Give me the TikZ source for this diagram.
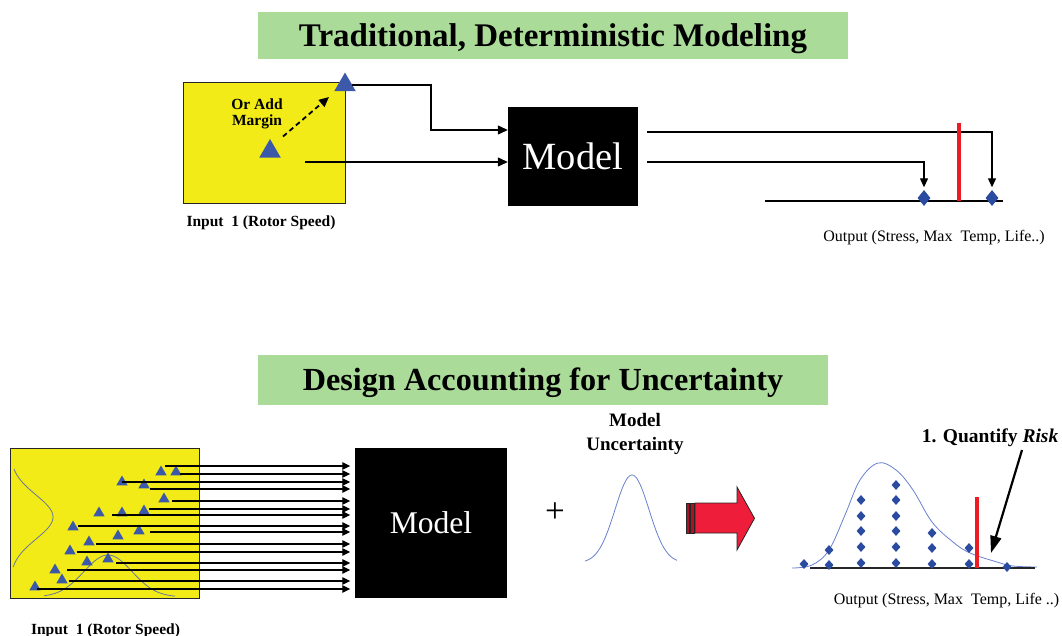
\documentclass[tikz,border=0pt]{standalone}
\usepackage{fontspec}
\usepackage{graphicx}
\setmainfont{Liberation Serif}
\usetikzlibrary{arrows.meta,shapes.geometric,calc}
\definecolor{titlegreen}{RGB}{170,219,153}
\definecolor{boxyellow}{RGB}{242,235,24}
\definecolor{triblue}{RGB}{60,88,168}
\definecolor{diablue}{RGB}{42,75,160}
\definecolor{limred}{RGB}{237,28,36}
\definecolor{arrred}{RGB}{238,30,58}
\definecolor{curveblue}{RGB}{105,128,205}
\definecolor{curvegray}{RGB}{105,120,150}
\begin{document}
\begin{tikzpicture}[x=1pt,y=-1pt,
  titlebox/.style={fill=titlegreen, inner sep=0pt, text height=22pt, text depth=0pt,
    font=\fontsize{33}{38}\selectfont\bfseries},
  ybox/.style={fill=boxyellow, draw=black!85, line width=1pt},
  modelbox/.style={fill=black, text=white, inner sep=0pt},
  bigtri/.style={regular polygon, regular polygon sides=3, fill=triblue, inner sep=0pt, minimum size=25pt},
  smalltri/.style={regular polygon, regular polygon sides=3, fill=triblue, inner sep=0pt, minimum size=13pt},
  bigdia/.style={diamond, fill=diablue, inner sep=0pt, minimum width=13pt, minimum height=16pt},
  smalldia/.style={diamond, fill=diablue, inner sep=0pt, minimum width=9pt, minimum height=10pt},
  arrA/.style={line width=1.2pt, -{Triangle[length=10pt,width=9pt]}},
  arrB/.style={line width=1.2pt, -{Triangle[length=8pt,width=7.5pt]}},
  arrD/.style={line width=1.2pt, -{Triangle[length=9pt,width=8pt]}},
  lbl/.style={font=\fontsize{15.5}{16}\selectfont\bfseries, align=center, inner sep=0pt},
  outlbl/.style={font=\fontsize{16}{18}\selectfont, inner sep=0pt, anchor=base},
]
\useasboundingbox (0,0) rectangle (1062,636);

% ---------- Top section ----------
\node[titlebox, minimum width=590pt, minimum height=47pt] (title1) at (553,35.3) {Traditional, Deterministic Modeling};

\node[ybox, minimum width=162pt, minimum height=121pt, inner sep=0pt] (yb1) at (264,143.5) {};
\node[lbl] (margin) at (257,113.5) {Or Add\\Margin};
\node[bigtri] (triB) at (270,151.5) {};
\node[bigtri] (triA) at (345,85) {};
\draw[line width=1.8pt, dash pattern=on 5pt off 3.5pt, -{Triangle[length=10pt,width=9pt]}]
  ([shift={(13,-15)}]triB.center) -- ([shift={(-16,12)}]triA.center);
\node[lbl, anchor=base] (in1lbl) at (261,226.7) {Input\ \ 1 (Rotor Speed)};

\node[modelbox, minimum width=130pt, minimum height=99pt, font=\fontsize{38.5}{40}\selectfont] (mdl) at (573,156.5) {Model};

\coordinate (bend) at (431,130);
\draw[arrA] (triA.east) -| (bend) -- (bend -| mdl.west);
\coordinate (in2) at (305,162);
\draw[arrA] (in2) -- (in2 -| mdl.west);

\coordinate (base1L) at (765,201);
\coordinate (base1R) at (1003,201);
\draw[line width=1.3pt] (base1L) -- (base1R);
\node[bigdia] (dA) at (924,198) {};
\node[bigdia] (dB) at (992,198) {};
\coordinate (o1) at (647,132);
\coordinate (o2) at (647,162);
\draw[arrD, shorten >=2.5pt] (o1) -| (dB.north);
\draw[arrD, shorten >=2.5pt] (o2) -| (dA.north);
\coordinate (lim1t) at (959,123);
\coordinate (lim1b) at (959,201);
\draw[limred, line width=3.8pt] (lim1t) -- (lim1b);
\node[outlbl] (out1) at (934,241.7) {Output (Stress, Max\ \ Temp,\ Life..)};

% ---------- Bottom section ----------
\node[titlebox, minimum width=570pt, minimum height=50pt, text height=21.5pt, font=\fontsize{32.2}{38}\selectfont\bfseries] (title2) at (543,380) {Design Accounting for Uncertainty};

\node[ybox, minimum width=189pt, minimum height=150pt, inner sep=0pt] (yb2) at (104.5,523) {};
\draw[curvegray, line width=0.8pt] plot[domain=469:567, samples=70]
  ({10+43*exp(-(\x-517)*(\x-517)/(2*22*22))}, \x);
\draw[curvegray, line width=0.8pt] plot[domain=44:175, samples=70]
  (\x, {597-42*exp(-(\x-108)*(\x-108)/(2*24*24))});

\foreach \i/\x/\y in {1/161/472, 2/176/472, 3/122/482, 4/144/485, 5/164/499, 6/99/513,
  7/122/513, 8/144/511, 9/73/527, 10/118/536, 11/139/531, 12/89/542, 13/70/551,
  14/108/559, 15/87/562, 16/55/570, 17/62/580, 18/35/587}
  {\node[smalltri] (st\i) at (\x,\y) {};}

\node[modelbox, minimum width=152pt, minimum height=150pt, font=\fontsize{31.6}{34}\selectfont] (mdl2) at (431,523) {Model};
\coordinate (mL) at ([xshift=-4.5pt]mdl2.west);
\foreach \i/\x/\y in {1/165/466, 2/180/474, 3/122/482, 4/150/489, 5/172/501, 6/149/509,
  7/112/515, 8/78/526, 9/150/532, 10/96/544, 11/77/552, 12/116/563, 13/67/570,
  14/69/581, 15/37/589}
  {\coordinate (s\i) at (\x,\y);
   \draw[arrB] (s\i) -- (s\i -| mL);}

\node[font=\fontsize{35}{36}\selectfont, inner sep=0pt] (plus) at (555,512.5) {+};
\node[font=\fontsize{19}{24}\selectfont\bfseries, align=center, inner sep=0pt] (mu) at (635,434.3) {Model\\Uncertainty};
\draw[curveblue, line width=0.8pt] plot[domain=585:677, samples=70]
  (\x, {563-88*exp(-(\x-632)*(\x-632)/(2*17*17))});

% red arrow
\filldraw[fill=arrred!70!black, draw=black!85, line width=0.8pt] (686,503) rectangle (689.5,533);
\filldraw[fill=arrred!70!black, draw=black!85, line width=0.8pt] (690.5,503) rectangle (694,533);
\filldraw[fill=arrred, draw=black!85, line width=0.8pt] (695,503) -- (737,503) -- (737,487)
  -- (754.5,518.3) -- (737,550) -- (737,533) -- (695,533) -- cycle;

% output distribution
\draw[curveblue, line width=0.8pt] plot[smooth, tension=0.6] coordinates {
  (792,568) (812,565) (829,550) (845,515) (860,480) (878,463) (896,470) (913,490)
  (932,522) (953,542) (970,553) (997,562) (1013,566) (1037,567)};
\coordinate (base2L) at (810,568);
\coordinate (base2R) at (1035,568);
\draw[line width=1.8pt, black!85] (base2L) -- (base2R);
\foreach \i/\x/\y in {1/804/564, 2/829/550, 3/829/565,
  4/861/500, 5/861/516, 6/861/531, 7/861/547, 8/861/563,
  9/896/485, 10/896/500, 11/896/516, 12/896/531, 13/896/547, 14/896/563,
  15/932/533, 16/932/548, 17/932/564, 18/969/548, 19/969/564, 20/1007/567}
  {\node[smalldia] (sd\i) at (\x,\y) {};}
\coordinate (lim2t) at (977,497);
\coordinate (lim2b) at (977,568);
\draw[limred, line width=4pt] (lim2t) -- (lim2b);

\node[font=\fontsize{19.5}{22}\selectfont\bfseries, inner sep=0pt, anchor=base] (q) at (990,442.7) {1. Quantify \textit{Risk}};
\coordinate (qs) at (1022,450);
\coordinate (qt) at (991,553);
\draw[line width=2.2pt, -{Triangle[length=17pt,width=11pt]}] (qs) -- (qt);

\node[outlbl] (out2) at (946.5,604) {Output (Stress, Max\ \ Temp,\ Life ..)};
\node[lbl, anchor=base] (in2lbl) at (105.5,634) {Input\ \ 1 (Rotor Speed)};
\end{tikzpicture}
\end{document}
